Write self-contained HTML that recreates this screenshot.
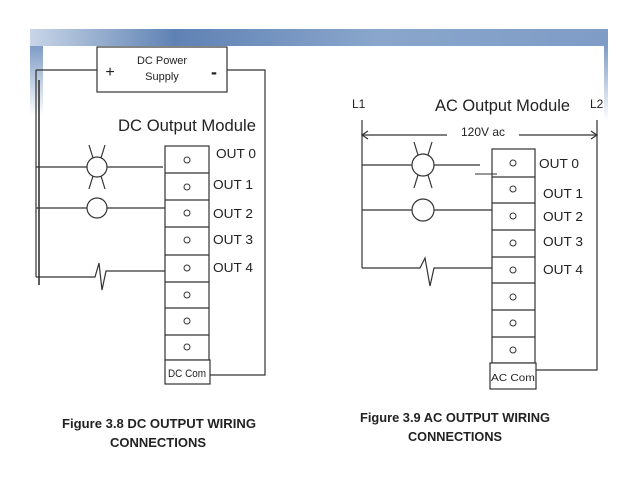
<!DOCTYPE html>
<html><head><meta charset="utf-8"><style>
html,body{margin:0;padding:0;background:#fff}
svg{display:block}
text{font-family:"Liberation Sans",Arial,sans-serif;fill:#222}
</style></head><body>
<svg width="638" height="493" viewBox="0 0 638 493" xmlns="http://www.w3.org/2000/svg">
<defs>
<linearGradient id="bar" x1="0" x2="1" y1="0" y2="0">
<stop offset="0" stop-color="#c9d6e8"/>
<stop offset="0.25" stop-color="#5f82b4"/>
<stop offset="0.6" stop-color="#8aa6cc"/>
<stop offset="1" stop-color="#7e9cc6"/>
</linearGradient>
<linearGradient id="vl" x1="0" x2="0" y1="0" y2="1">
<stop offset="0" stop-color="#7f9cc6"/>
<stop offset="1" stop-color="#ffffff"/>
</linearGradient>
</defs>
<rect x="30" y="29" width="578" height="17" fill="url(#bar)"/>
<rect x="30" y="46" width="13" height="70" fill="url(#vl)"/>
<rect x="604" y="46" width="4" height="75" fill="url(#vl)"/>

<g stroke="#333" stroke-width="1.2" fill="none">
<!-- LEFT -->
<rect x="97" y="47" width="130" height="45" fill="#fff"/>
<polyline points="36,70 97,70"/>
<polyline points="227,70 265,70 265,375 210,375"/>
<line x1="36" y1="70" x2="36" y2="277"/>
<line x1="39" y1="80" x2="39" y2="285" stroke-width="1.6"/>
<rect x="165" y="146" width="44" height="214" fill="#fff"/>
<line x1="165" y1="173" x2="209" y2="173"/>
<line x1="165" y1="200" x2="209" y2="200"/>
<line x1="165" y1="227" x2="209" y2="227"/>
<line x1="165" y1="255" x2="209" y2="255"/>
<line x1="165" y1="282" x2="209" y2="282"/>
<line x1="165" y1="308" x2="209" y2="308"/>
<line x1="165" y1="335" x2="209" y2="335"/>
<rect x="165" y="360" width="45" height="24" fill="#fff"/>
<g stroke-width="1">
<circle cx="187" cy="160" r="3"/><circle cx="187" cy="187" r="3"/><circle cx="187" cy="213" r="3"/><circle cx="187" cy="240" r="3"/><circle cx="187" cy="268" r="3"/><circle cx="187" cy="295" r="3"/><circle cx="187" cy="321" r="3"/><circle cx="187" cy="347" r="3"/>
</g>
<line x1="36" y1="167" x2="87" y2="167"/><line x1="107" y1="167" x2="163" y2="167"/>
<circle cx="97" cy="167" r="10"/>
<line x1="89" y1="145" x2="93" y2="158"/><line x1="105" y1="145" x2="101" y2="158"/>
<line x1="89" y1="189" x2="93" y2="176"/><line x1="105" y1="189" x2="101" y2="176"/>
<line x1="36" y1="208" x2="87" y2="208"/><line x1="107" y1="208" x2="165" y2="208"/>
<circle cx="97" cy="208" r="10"/>
<path d="M36 277 H95 L99 263 L102 290 L106 271 H165"/>

<!-- RIGHT -->
<line x1="362" y1="120" x2="362" y2="268"/>
<path d="M362 268 H420 L425 258 L430 286 L434 268 H493"/>
<line x1="362" y1="135" x2="447" y2="135"/><line x1="519" y1="135" x2="597" y2="135"/>
<path d="M368 131 L362 135 L368 139"/><path d="M591 131 L597 135 L591 139"/>
<polyline points="597,120 597,370 536,370"/>
<rect x="492" y="149" width="43" height="214" fill="#fff"/>
<line x1="492" y1="177" x2="535" y2="177"/>
<line x1="492" y1="203" x2="535" y2="203"/>
<line x1="492" y1="230" x2="535" y2="230"/>
<line x1="492" y1="257" x2="535" y2="257"/>
<line x1="492" y1="283" x2="535" y2="283"/>
<line x1="492" y1="310" x2="535" y2="310"/>
<line x1="492" y1="337" x2="535" y2="337"/>
<rect x="490" y="363" width="46" height="26" fill="#fff"/>
<g stroke-width="1">
<circle cx="513" cy="163" r="3"/><circle cx="513" cy="189" r="3"/><circle cx="513" cy="216" r="3"/><circle cx="513" cy="243" r="3"/><circle cx="513" cy="270" r="3"/><circle cx="513" cy="297" r="3"/><circle cx="513" cy="323" r="3"/><circle cx="513" cy="350" r="3"/>
</g>
<line x1="362" y1="165" x2="412" y2="165"/><line x1="434" y1="165" x2="480" y2="165"/>
<circle cx="423" cy="165" r="11"/>
<line x1="414" y1="142" x2="418" y2="155"/><line x1="432" y1="142" x2="428" y2="155"/>
<line x1="414" y1="188" x2="418" y2="175"/><line x1="432" y1="188" x2="428" y2="175"/>
<line x1="475" y1="174" x2="497" y2="174" stroke-width="1"/>
<line x1="362" y1="210" x2="412" y2="210"/><line x1="434" y1="210" x2="492" y2="210"/>
<circle cx="423" cy="210" r="11"/>
</g>

<!-- text left -->
<text x="110" y="77" font-size="16" text-anchor="middle">+</text>
<text x="214" y="78" font-size="18" font-weight="bold" text-anchor="middle">-</text>
<text x="162" y="64" font-size="11" text-anchor="middle">DC Power</text>
<text x="162" y="80" font-size="11" text-anchor="middle">Supply</text>
<text x="118" y="131" font-size="17" textLength="138" lengthAdjust="spacingAndGlyphs">DC Output Module</text>
<text x="216" y="158" font-size="13" textLength="40" lengthAdjust="spacingAndGlyphs">OUT 0</text>
<text x="213" y="189" font-size="13" textLength="40" lengthAdjust="spacingAndGlyphs">OUT 1</text>
<text x="213" y="218" font-size="13" textLength="40" lengthAdjust="spacingAndGlyphs">OUT 2</text>
<text x="213" y="244" font-size="13" textLength="40" lengthAdjust="spacingAndGlyphs">OUT 3</text>
<text x="213" y="272" font-size="13" textLength="40" lengthAdjust="spacingAndGlyphs">OUT 4</text>
<text x="168" y="377" font-size="11" textLength="38" lengthAdjust="spacingAndGlyphs">DC Com</text>

<!-- text right -->
<text x="352" y="108" font-size="12">L1</text>
<text x="590" y="108" font-size="12">L2</text>
<text x="435" y="111" font-size="17" textLength="135" lengthAdjust="spacingAndGlyphs">AC Output Module</text>
<text x="483" y="136" font-size="12" text-anchor="middle">120V ac</text>
<text x="539" y="168" font-size="13" textLength="40" lengthAdjust="spacingAndGlyphs">OUT 0</text>
<text x="543" y="198" font-size="13" textLength="40" lengthAdjust="spacingAndGlyphs">OUT 1</text>
<text x="543" y="221" font-size="13" textLength="40" lengthAdjust="spacingAndGlyphs">OUT 2</text>
<text x="543" y="246" font-size="13" textLength="40" lengthAdjust="spacingAndGlyphs">OUT 3</text>
<text x="543" y="274" font-size="13" textLength="40" lengthAdjust="spacingAndGlyphs">OUT 4</text>
<text x="491" y="381" font-size="10.5" textLength="44" lengthAdjust="spacingAndGlyphs">AC Com</text>

<!-- captions -->
<text x="62" y="428" font-size="13" font-weight="bold" textLength="194" lengthAdjust="spacingAndGlyphs">Figure 3.8  DC OUTPUT WIRING</text>
<text x="110" y="447" font-size="13" font-weight="bold" textLength="96" lengthAdjust="spacingAndGlyphs">CONNECTIONS</text>
<text x="360" y="422" font-size="13" font-weight="bold" textLength="190" lengthAdjust="spacingAndGlyphs">Figure 3.9 AC OUTPUT WIRING</text>
<text x="408" y="441" font-size="13" font-weight="bold" textLength="94" lengthAdjust="spacingAndGlyphs">CONNECTIONS</text>
</svg>
</body></html>
